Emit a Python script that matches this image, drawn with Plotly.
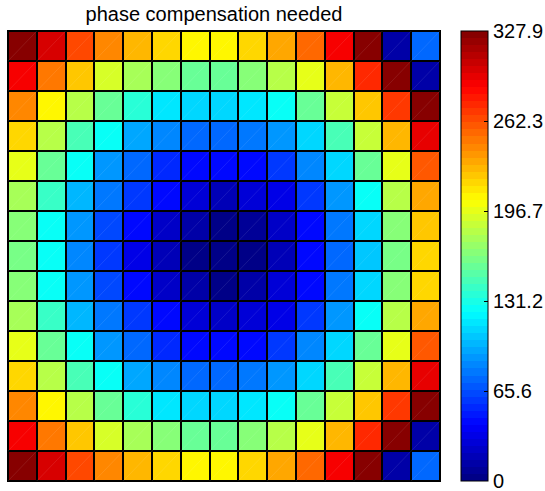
import plotly.graph_objects as go

# ---- data ----
cols = list(range(15))
rows = list(range(15))
r00 = [327, 298, 266, 245, 227, 217, 205, 210, 216, 232, 256, 287, 326, 14, 74]
r01 = [287, 250, 221, 194, 176, 164, 156, 156, 164, 180, 199, 230, 273, 324, 14]
r02 = [245, 210, 180, 154, 134, 117, 112, 112, 117, 128, 154, 185, 225, 270, 327]
r03 = [216, 180, 145, 123, 96, 82, 74, 74, 79, 90, 112, 145, 185, 230, 293]
r04 = [195, 156, 123, 90, 72, 56, 46, 41, 46, 61, 85, 112, 156, 199, 259]
r05 = [178, 140, 101, 79, 57, 46, 30, 19, 30, 35, 57, 88, 128, 180, 235]
r06 = [167, 128, 90, 63, 41, 25, 14, 3, 8, 25, 46, 77, 112, 167, 221]
r07 = [161, 123, 85, 57, 35, 19, 5, 2, 3, 19, 41, 72, 107, 161, 216]
r08 = [167, 128, 90, 63, 41, 25, 12, 3, 12, 30, 46, 79, 112, 164, 220]
r09 = [178, 140, 101, 79, 57, 46, 30, 22, 30, 35, 57, 88, 128, 180, 235]
r10 = [195, 156, 123, 90, 72, 56, 46, 41, 46, 61, 85, 112, 156, 199, 259]
r11 = [216, 180, 145, 123, 96, 82, 74, 74, 79, 90, 112, 145, 185, 230, 293]
r12 = [245, 210, 180, 154, 134, 117, 112, 112, 117, 128, 154, 185, 225, 270, 327]
r13 = [287, 250, 221, 194, 176, 164, 156, 156, 164, 180, 199, 230, 273, 324, 14]
r14 = [327, 298, 266, 245, 227, 217, 205, 210, 216, 232, 256, 287, 326, 14, 74]
z = [r00, r01, r02, r03, r04, r05, r06, r07, r08, r09, r10, r11, r12, r13, r14]

zmax = 327.9
tick_vals = [0, 65.58, 131.16, 196.74, 262.32, 327.9]
tick_text = ["0", "65.6", "131.2", "196.7", "262.3", "327.9"]
title_text = "phase compensation needed"

# ---- MATLAB jet (64 discrete levels) ----
def jet(f):
    def c(x):
        return max(0.0, min(1.0, x))
    r = c(1.5 - abs(4 * f - 3))
    g = c(1.5 - abs(4 * f - 2))
    b = c(1.5 - abs(4 * f - 1))
    return "rgb(%d,%d,%d)" % (round(r * 255), round(g * 255), round(b * 255))

N = 64
cscale = []
for i in range(N):
    col = jet((i + 0.5) / N)
    cscale.append([i / N, col])
    cscale.append([(i + 1) / N, col])

FONT = "Liberation Sans, Arial, sans-serif"

fig = go.Figure()
fig.add_trace(go.Heatmap(
    z=z, x=cols, y=rows,
    colorscale=cscale, zmin=0, zmax=zmax,
    xgap=2, ygap=2,
    hoverinfo="skip",
    colorbar=dict(
        x=(461 - 8) / 432, xanchor="left", xpad=0,
        y=0.5, yanchor="middle", len=1, lenmode="fraction", ypad=0,
        thickness=27, thicknessmode="pixels",
        outlinecolor="black", outlinewidth=1,
        tickvals=tick_vals, ticktext=tick_text,
        ticks="inside", ticklen=4, tickwidth=1, tickcolor="black",
        ticklabeloverflow="allow",
        tickfont=dict(family=FONT, size=20, color="black"),
    ),
))

# faint diagonal artefact lines inside every cell
dx, dy = [], []
for i in rows:
    for j in cols:
        dx += [j - 0.5, j + 0.5, None]
        dy += [i + 0.5, i - 0.5, None]
fig.add_trace(go.Scatter(
    x=dx, y=dy, mode="lines",
    line=dict(color="rgba(255,255,255,0.18)", width=0.5),
    hoverinfo="skip", showlegend=False,
))

fig.update_layout(
    width=545, height=491,
    margin=dict(l=8, r=105, t=31, b=10, autoexpand=False),
    paper_bgcolor="white", plot_bgcolor="black",
    title=dict(text=title_text, x=214 / 545, xanchor="center",
               xref="container", yref="container",
               y=1 - 14 / 491, yanchor="middle",
               font=dict(family=FONT, size=20, color="black")),
    showlegend=False,
)
fig.update_xaxes(range=[-0.5, 14.5], showticklabels=False, ticks="",
                 showgrid=False, zeroline=False,
                 showline=True, linecolor="black", linewidth=1, mirror=True)
fig.update_yaxes(range=[14.5, -0.5], showticklabels=False, ticks="",
                 showgrid=False, zeroline=False,
                 showline=True, linecolor="black", linewidth=1, mirror=True)

fig.write_html("out.html")
